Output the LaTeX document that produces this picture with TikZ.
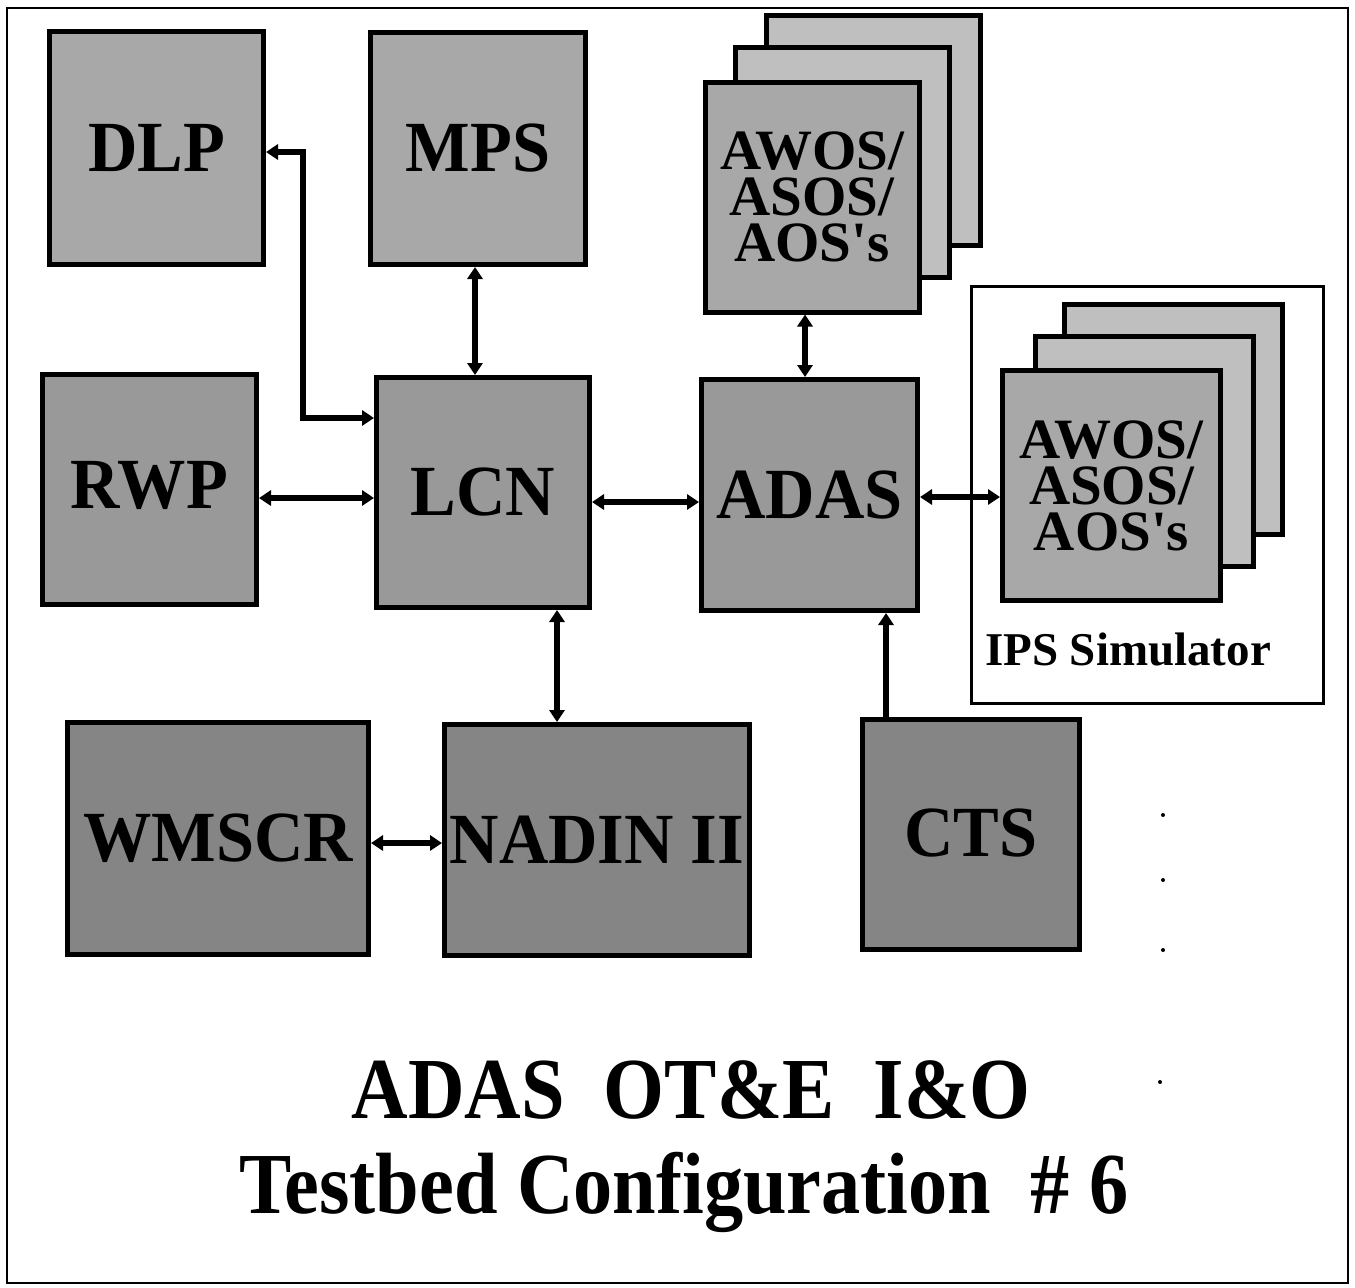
\documentclass[tikz,border=0pt]{standalone}
\usepackage{fontspec}
\setmainfont{Liberation Serif}[FakeStretch=0.9]
\newfontfamily\boxfont{Liberation Serif}[FakeStretch=0.95]
\newfontfamily\widefont{Liberation Serif}
\usetikzlibrary{arrows.meta}
\tikzset{
  box/.style={draw=black, line width=5pt, inner sep=0pt, font=\boxfont\bfseries\fontsize{72}{72}\selectfont, align=center},
  lightbox/.style={box, fill=black!34},
  midbox/.style={box, fill=black!40},
  darkbox/.style={box, fill=black!48},
  backbox/.style={box, fill=black!25},
  stacktxt/.style={font=\widefont\bfseries\fontsize{57}{46}\selectfont},
  link/.style={line width=6pt, {Triangle[length=12pt,width=15pt]}-{Triangle[length=12pt,width=15pt]}},
  onearrow/.style={line width=6pt, -{Triangle[length=12pt,width=15pt]}},
  frame/.style={draw=black, line width=3pt},
  speck/.style={fill=black, circle, inner sep=0pt, minimum size=4pt}
}
\begin{document}
\begin{tikzpicture}[x=1pt, y=-1pt]
\useasboundingbox (0,0) rectangle (1355,1288);
\fill[white] (0,0) rectangle (1355,1288);
\draw[line width=2.5pt] (7,8) rectangle (1348,1283);

% top row
\node[lightbox, minimum width=214pt, minimum height=233pt] (dlp) at (156.5,148) {DLP};
\node[lightbox, minimum width=215pt, minimum height=232pt] (mps) at (478,148.5) {MPS};

% AWOS stack (top)
\node[backbox, minimum width=214pt, minimum height=230pt] (aw3) at (873.5,130.5) {};
\node[backbox, minimum width=214pt, minimum height=230pt] (aw2) at (842.5,162.5) {};
\node[lightbox, minimum width=214pt, minimum height=230pt, stacktxt] (awos) at (812,197) {AWOS/\\ASOS/\\AOS's};

% middle row
\node[midbox, minimum width=214pt, minimum height=230pt] (rwp) at (149.5,489.5) {\raisebox{10pt}{RWP}};
\node[midbox, minimum width=213pt, minimum height=230pt] (lcn) at (483,492.5) {LCN};
\node[midbox, minimum width=216pt, minimum height=231pt] (adas) at (809.5,495) {ADAS};

% IPS simulator frame
\node[frame, minimum width=352pt, minimum height=417pt, inner sep=0pt] (ips) at (1147.5,495) {};
\node[backbox, minimum width=218pt, minimum height=230pt] (ip3) at (1173.5,419.5) {};
\node[backbox, minimum width=218pt, minimum height=230pt] (ip2) at (1144.5,451.5) {};
\node[lightbox, minimum width=218pt, minimum height=230pt, stacktxt] (ipaw) at (1111.5,485.5) {AWOS/\\ASOS/\\AOS's};
\node[anchor=base, font=\widefont\bfseries\fontsize{47}{47}\selectfont, inner sep=0pt] (ipslab) at (1128,665) {IPS Simulator};

% bottom row
\node[darkbox, minimum width=301pt, minimum height=232pt] (wmscr) at (218,838.5) {WMSCR};
\node[darkbox, minimum width=305pt, minimum height=231pt] (nadin) at (597,840) {NADIN II};
\node[darkbox, minimum width=217pt, minimum height=230pt] (cts) at (971,834.5) {\raisebox{4pt}{CTS}};

% connector coordinates
\coordinate (k1) at (303,418);
\coordinate (k2) at (303,152);
\coordinate (xmps) at (475,0);
\coordinate (yrwp) at (0,498);
\coordinate (ylcn) at (0,502);
\coordinate (xaw) at (805,0);
\coordinate (yips) at (0,497);
\coordinate (xnad) at (557,0);
\coordinate (ywm) at (0,843);
\coordinate (xcts) at (886,0);

\draw[link] (dlp.east |- k2) -- (k2) -- (k1) -- (lcn.west |- k1);
\draw[link] (mps.south -| xmps) -- (lcn.north -| xmps);
\draw[link] (rwp.east |- yrwp) -- (lcn.west |- yrwp);
\draw[link] (lcn.east |- ylcn) -- (adas.west |- ylcn);
\draw[link] (awos.south -| xaw) -- (adas.north -| xaw);
\draw[link] (adas.east |- yips) -- (ipaw.west |- yips);
\draw[link] (lcn.south -| xnad) -- (nadin.north -| xnad);
\draw[link] (wmscr.east |- ywm) -- (nadin.west |- ywm);
\draw[onearrow] (cts.north -| xcts) -- (adas.south -| xcts);

% specks
\node[speck] (s1) at (1163,815) {};
\node[speck] (s2) at (1163,880) {};
\node[speck] (s3) at (1163,950) {};
\node[speck] (s4) at (1160,1082) {};

% title
\node[anchor=base, inner sep=0pt, font=\bfseries\fontsize{87}{87}\selectfont] (t1) at (691,1118) {ADAS\ \ OT\&E\ \ I\&O};
\node[anchor=base, inner sep=0pt, font=\bfseries\fontsize{87}{87}\selectfont] (t2) at (684,1213) {Testbed Configuration\ \ \# 6};
\end{tikzpicture}
\end{document}
